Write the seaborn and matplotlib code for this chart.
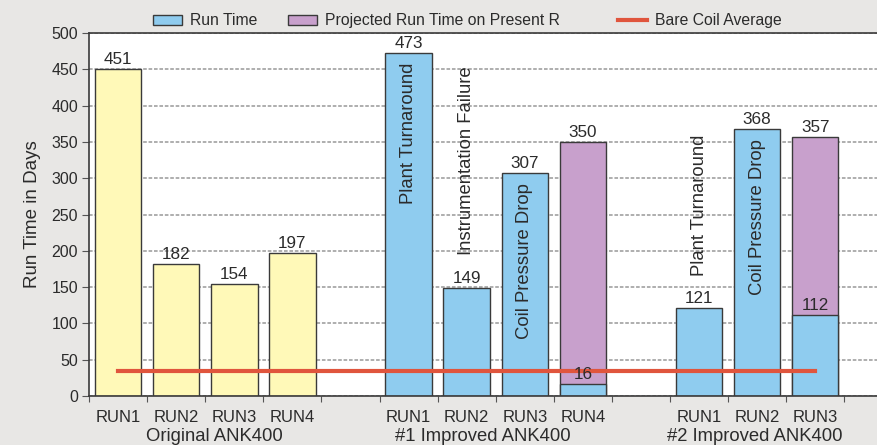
import pandas as pd
import seaborn as sns
import matplotlib.pyplot as plt
from matplotlib.patches import Patch
from matplotlib.lines import Line2D
from matplotlib.transforms import blended_transform_factory

# DATA
slots = [0, 1, 2, 3, 5, 6, 7, 8, 10, 11, 12]
run_labels = ["RUN1", "RUN2", "RUN3", "RUN4",
              "RUN1", "RUN2", "RUN3", "RUN4",
              "RUN1", "RUN2", "RUN3"]
furnace = ["orig"] * 4 + ["imp"] * 7
run_time = [451, 182, 154, 197, 473, 149, 307, 16, 121, 368, 112]
projected = [None, None, None, None, None, None, None, 350, None, None, 357]
bare_coil_avg = 35

group_names = ["Original ANK400", "#1 Improved ANK400", "#2 Improved ANK400"]
group_pos = [1.65, 6.28, 10.95]

# reason notes: slot, text, inside bar?
notes = [
    (5, "Plant Turnaround", True),
    (6, "Instrumentation Failure", False),
    (7, "Coil Pressure Drop", True),
    (10, "Plant Turnaround", False),
    (11, "Coil Pressure Drop", True),
]

YELLOW = "#FFF9B8"
BLUE = "#8FCCEF"
PURPLE = "#C8A0CC"
RED = "#E0553D"
EDGE = "#3a3a3a"
TXT = "#2b2b2b"
BG = "#E8E7E5"

df = pd.DataFrame({"slot": slots, "run": run_labels, "kind": furnace,
                   "run_time": run_time, "projected": projected})
# purple bars sit under the run-time bars; 0 where no projection
df["total"] = df["projected"].fillna(0)
proj = df.dropna(subset=["projected"])

plt.rcParams["font.family"] = ["Liberation Sans", "DejaVu Sans"]
plt.rcParams["text.color"] = TXT

fig = plt.figure(figsize=(8.78, 4.45), dpi=100, facecolor=BG)
ax = fig.add_axes([0.1014, 0.1101, 0.8986, 0.8157])
ax.set_facecolor("white")
ax.set_axisbelow(True)
ax.yaxis.grid(True, color="#a8a8a8", linestyle=(0, (2, 1)), linewidth=1.3)

sns.barplot(data=df, x="slot", y="total", color=PURPLE, native_scale=True,
            edgecolor=EDGE, linewidth=1, saturation=1, ax=ax)
sns.barplot(data=df, x="slot", y="run_time", hue="kind", dodge=False,
            palette={"orig": YELLOW, "imp": BLUE}, native_scale=True,
            edgecolor=EDGE, linewidth=1, saturation=1, legend=False, ax=ax)

sns.lineplot(x=[slots[0], slots[-1]], y=[bare_coil_avg, bare_coil_avg],
             color=RED, linewidth=3, ax=ax)

# value labels
for s, v in zip(df.slot, df.run_time):
    ax.annotate(str(v), (s, v), xytext=(0, 1.5), textcoords="offset points",
                ha="center", va="bottom", fontsize=12.3, color=TXT)
for s, v in zip(proj.slot, proj.projected):
    ax.annotate(str(int(v)), (s, v), xytext=(0, 1.5), textcoords="offset points",
                ha="center", va="bottom", fontsize=12.3, color=TXT)

for s, txt, inside in notes:
    v = df.loc[df.slot == s, "run_time"].iloc[0]
    if inside:
        ax.annotate(txt, (s, v), xytext=(0, -7.5), textcoords="offset points",
                    ha="center", va="top", rotation=90, fontsize=13.3, color=TXT)
    else:
        ax.annotate(txt, (s, v), xytext=(0, 23.5), textcoords="offset points",
                    ha="center", va="bottom", rotation=90, fontsize=13.3, color=TXT)

# axes
ax.set_ylim(0, 500)
ax.set_xlim(-0.5, 13.08)
ax.set_yticks(range(0, 501, 50))
ax.set_xticks([x + 0.5 for x in range(-1, 13)])
ax.set_xticklabels([])
ax.set_xticks(slots, minor=True)
ax.set_xticklabels(run_labels, minor=True)
ax.tick_params(axis="x", which="major", direction="out", length=4, color="#555555")
ax.tick_params(axis="x", which="minor", length=0, pad=10, labelsize=12, labelcolor=TXT)
ax.tick_params(axis="y", direction="out", length=5, color="#555555", labelsize=11.5,
               labelcolor=TXT, pad=3)
for sp in ["left", "bottom", "top"]:
    ax.spines[sp].set_color(EDGE)
    ax.spines[sp].set_linewidth(1.2)
ax.spines["right"].set_visible(False)

ax.set_xlabel("")
ax.set_ylabel("Run Time in Days", fontsize=13.5, color=TXT, labelpad=7)

tr = blended_transform_factory(ax.transData, ax.transAxes)
for name, pos in zip(group_names, group_pos):
    ax.text(pos, -0.111, name, transform=tr, ha="center", va="center",
            fontsize=13.3, color=TXT)

legend_items = [
    (Patch(facecolor=BLUE, edgecolor=EDGE, linewidth=1), "Run Time", 0.1743),
    (Patch(facecolor=PURPLE, edgecolor=EDGE, linewidth=1), "Projected Run Time on Present R", 0.328),
    (Line2D([], [], color=RED, linewidth=3), "Bare Coil Average", 0.704),
]
for h, lab, xpos in legend_items:
    leg = fig.legend([h], [lab], loc="center left", bbox_to_anchor=(xpos, 0.953),
                     frameon=False, fontsize=11.3, handlelength=1.85, handleheight=0.6,
                     handletextpad=0.5, borderpad=0, borderaxespad=0)

fig.savefig("out.png", dpi=100, facecolor=BG)
